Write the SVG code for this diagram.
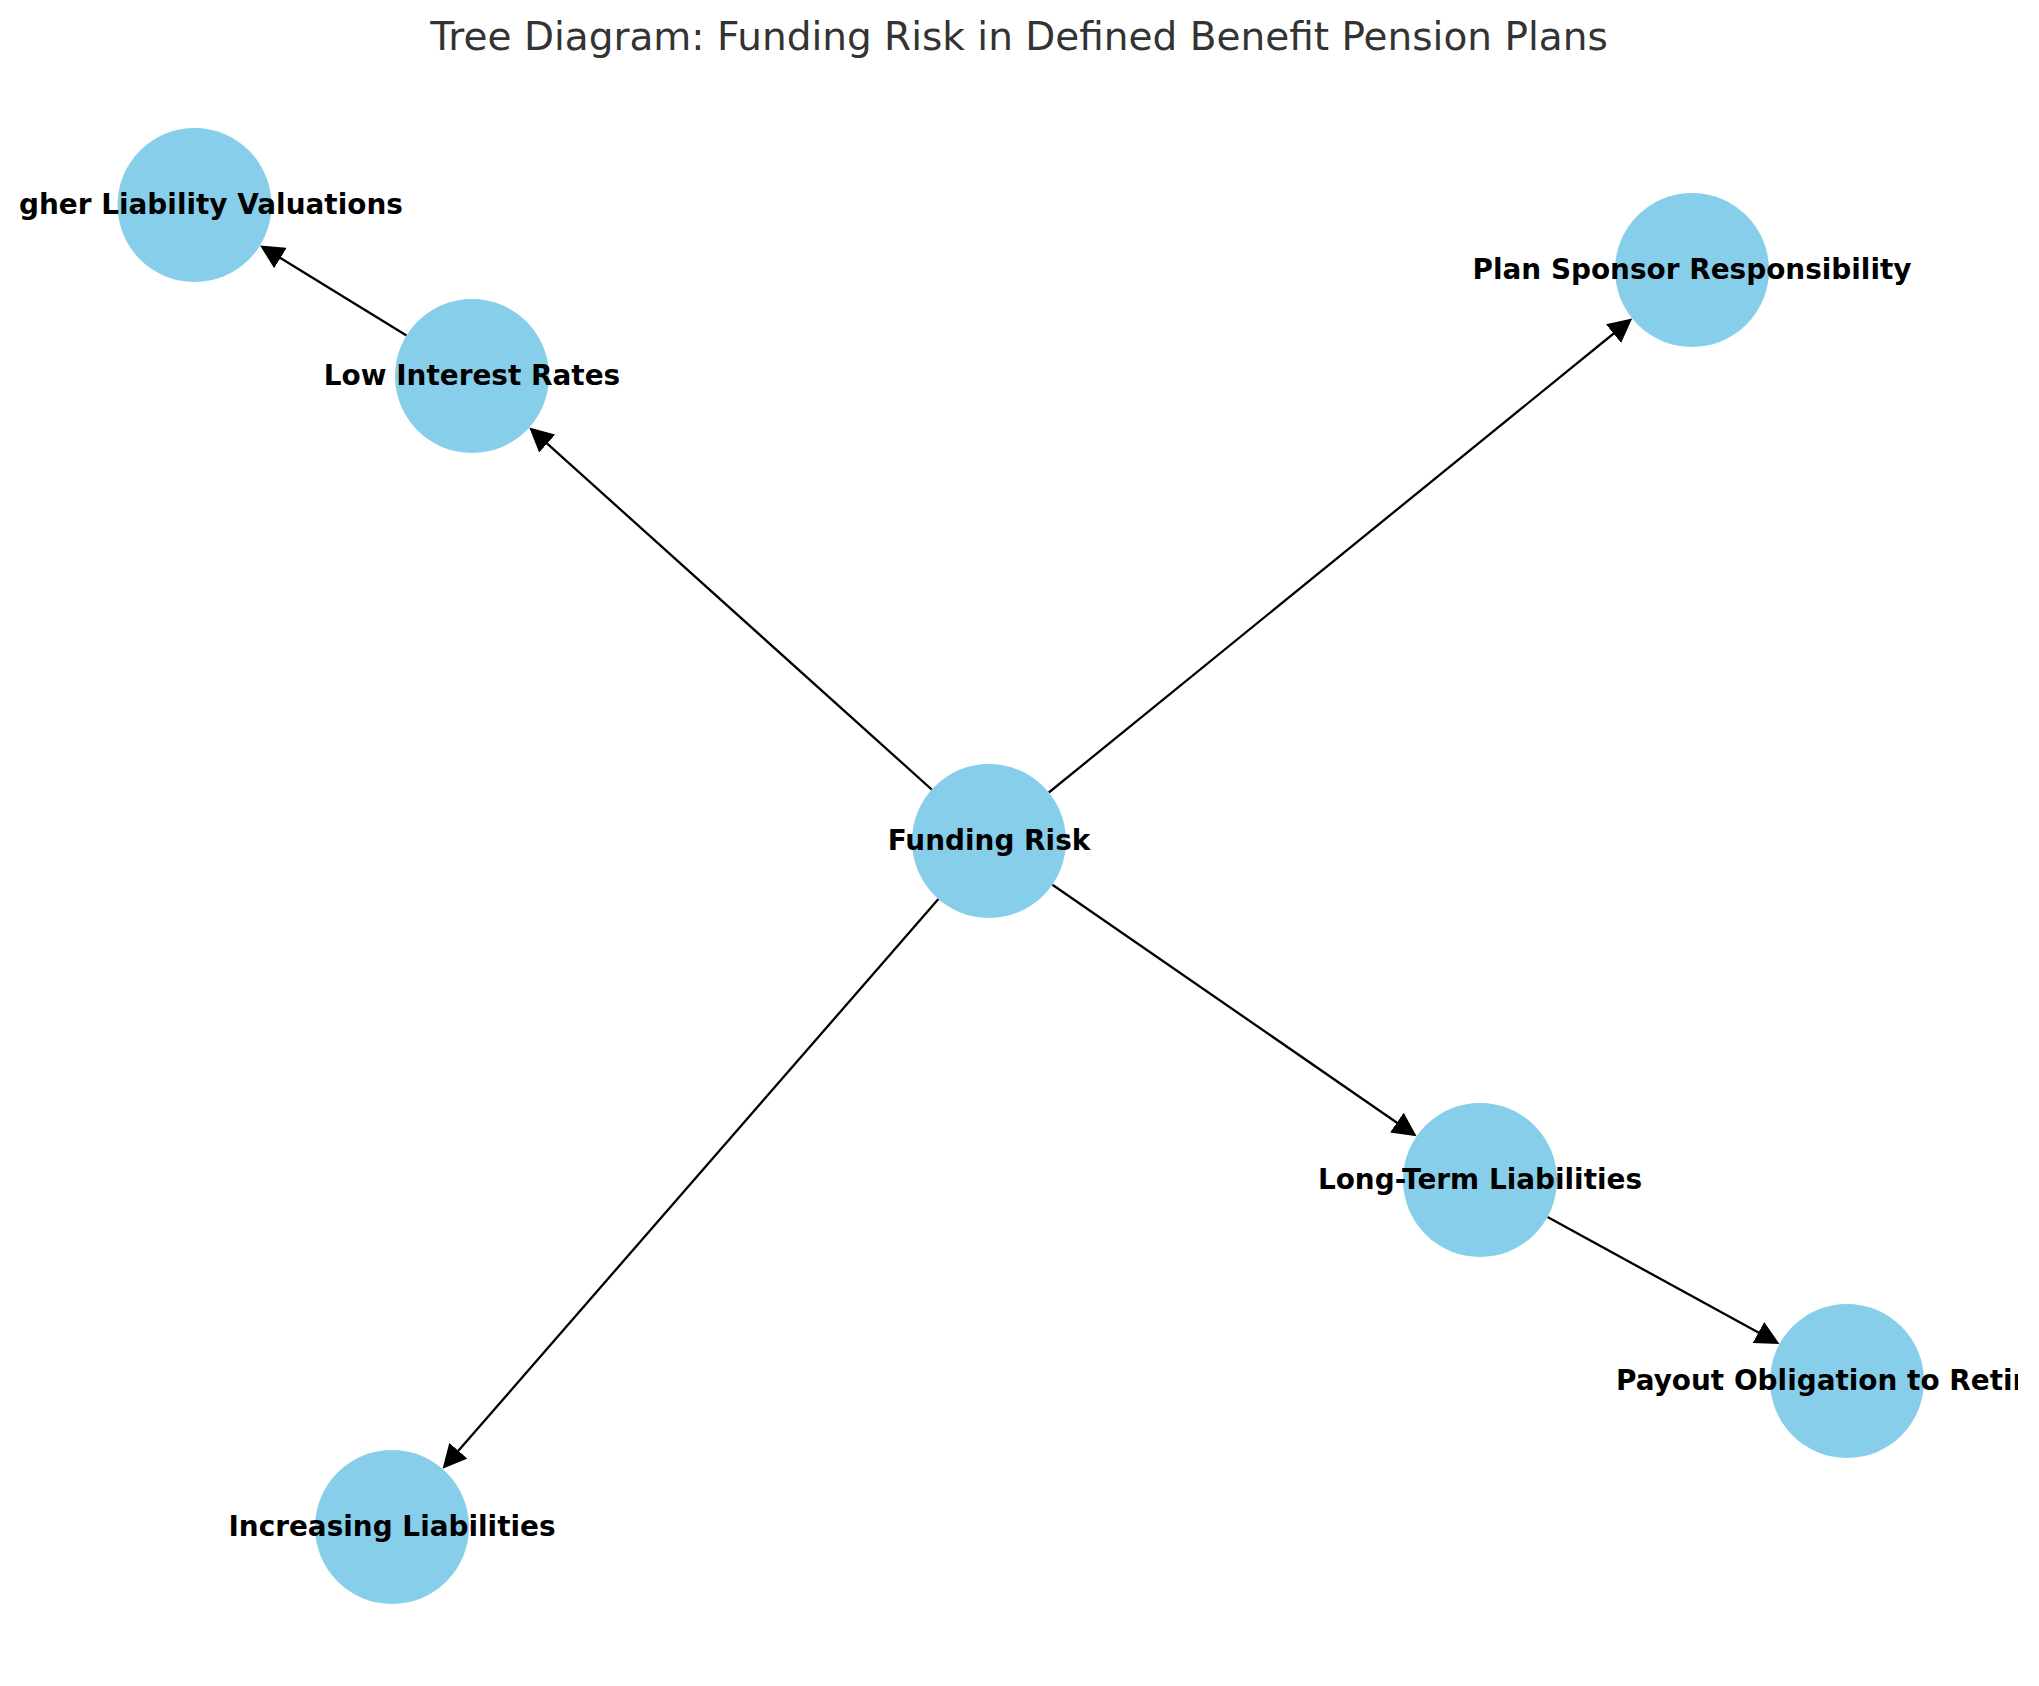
<svg xmlns="http://www.w3.org/2000/svg" width="2039" height="1686" viewBox="0 0 2039 1686">
<style>
.bg{fill:#ffffff}
.node circle{fill:#87CEEB}
.node text{font-family:"DejaVu Sans","Liberation Sans",sans-serif;font-weight:bold;font-size:27.9px;fill:#000000;text-anchor:middle}
.edge{stroke:#000000;stroke-width:2.3;fill:none;marker-end:url(#arrow)}
.title{font-family:"DejaVu Sans","Liberation Sans",sans-serif;font-size:39px;fill:#333333;text-anchor:middle}
</style>
<defs>
<marker id="arrow" markerUnits="userSpaceOnUse" markerWidth="24" markerHeight="24" viewBox="0 0 24 24" refX="1" refY="12" orient="auto">
<path d="M0,0 L24,12 L0,24 z" fill="#000000"/>
</marker>
<clipPath id="figclip"><rect x="0" y="0" width="2018" height="1686"/></clipPath>
</defs>
<rect class="bg" x="0" y="0" width="2039" height="1686"/>
<text class="title" x="1019" y="50">Tree Diagram: Funding Risk in Defined Benefit Pension Plans</text>
<g id="connectors">
<line class="edge" x1="931.7" y1="789.5" x2="546.4" y2="442.9"/>
<line class="edge" x1="406.5" y1="335.6" x2="279.6" y2="257.5"/>
<line class="edge" x1="1048.8" y1="792.5" x2="1614.3" y2="333.0"/>
<line class="edge" x1="1052.4" y1="884.7" x2="1397.7" y2="1123.2"/>
<line class="edge" x1="1547.5" y1="1217.0" x2="1759.3" y2="1333.0"/>
<line class="edge" x1="938.4" y1="899.1" x2="457.7" y2="1451.5"/>
</g>
<g id="node-funding-risk" class="node">
<circle cx="989" cy="841" r="77"/>
<text x="989" y="850">Funding Risk</text>
</g>
<g id="node-low-interest-rates" class="node">
<circle cx="472" cy="376" r="77"/>
<text x="472" y="385">Low Interest Rates</text>
</g>
<g id="node-higher-liability-valuations" class="node">
<circle cx="194.5" cy="205" r="77"/>
<text x="19" y="214" style="text-anchor:start">gher Liability Valuations</text>
</g>
<g id="node-plan-sponsor-responsibility" class="node">
<circle cx="1692" cy="270" r="77"/>
<text x="1692" y="279">Plan Sponsor Responsibility</text>
</g>
<g id="node-long-term-liabilities" class="node">
<circle cx="1480" cy="1180" r="77"/>
<text x="1480" y="1188.5">Long-Term Liabilities</text>
</g>
<g id="node-payout-obligation" class="node">
<circle cx="1847" cy="1381" r="77"/>
<text x="1616" y="1389.5" style="text-anchor:start" clip-path="url(#figclip)">Payout Obligation to Retir</text>
</g>
<g id="node-increasing-liabilities" class="node">
<circle cx="392" cy="1527" r="77"/>
<text x="392" y="1536">Increasing Liabilities</text>
</g>
</svg>
